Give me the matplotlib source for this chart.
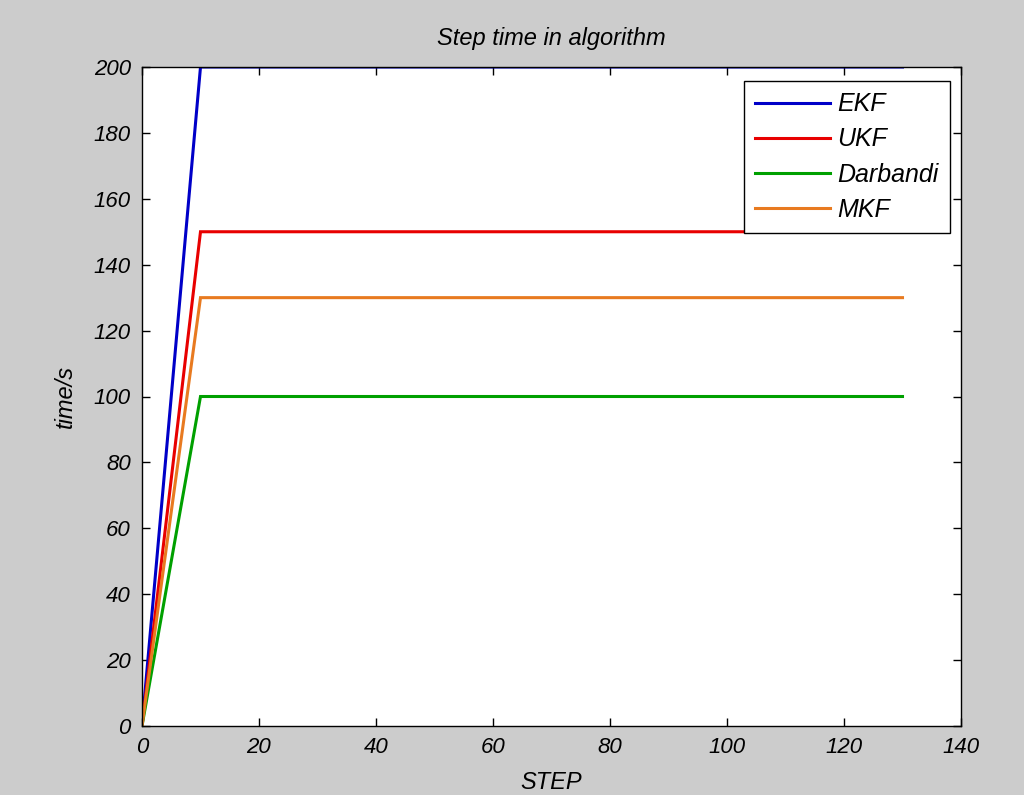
import matplotlib
matplotlib.use("Agg")
import matplotlib.pyplot as plt

plt.rcParams['font.family'] = ['Liberation Sans', 'DejaVu Sans']

steps = [0, 10, 130]
ekf = [0, 200, 200]
ukf = [0, 150, 150]
darbandi = [0, 100, 100]
mkf = [0, 130, 130]
labels = ["EKF", "UKF", "Darbandi", "MKF"]
colors = ["#0000c8", "#e80000", "#00a000", "#e87a20"]

fig = plt.figure(figsize=(10.24, 7.95), dpi=100, facecolor="#cccccc")
ax = fig.add_axes([142/1024, 1-726/795, (961-142)/1024, (726-67)/795])
ax.set_facecolor("white")

for y, lab, c in zip([ekf, ukf, darbandi, mkf], labels, colors):
    ax.plot(steps, y, color=c, lw=2.2, label=lab, solid_joinstyle='miter')

ax.set_xlim(0, 140)
ax.set_ylim(0, 200)
ax.set_xticks(range(0, 141, 20))
ax.set_yticks(range(0, 201, 20))
ax.tick_params(direction='in', top=True, right=True, length=6, width=1,
               labelsize=16)
ax.tick_params(axis='x', pad=8)
ax.tick_params(axis='y', pad=8)
for lbl in ax.get_xticklabels() + ax.get_yticklabels():
    lbl.set_fontstyle('italic')
for s in ax.spines.values():
    s.set_linewidth(1)
    s.set_color('black')

ax.set_title("Step time in algorithm", fontsize=17, fontstyle='italic', pad=16)
ax.set_xlabel("STEP", fontsize=17, fontstyle='italic', labelpad=9)
ax.set_ylabel("time/s", fontsize=17, fontstyle='italic', labelpad=12)

leg = ax.legend(loc='upper right', bbox_to_anchor=(950/1024, 1-81/795),
                bbox_transform=fig.transFigure, fancybox=False, framealpha=1,
                edgecolor='black', prop={'size': 18, 'style': 'italic'},
                handlelength=3.0, borderpad=0.45, labelspacing=0.45, handletextpad=0.3,
                borderaxespad=0)
leg.get_frame().set_linewidth(1)

fig.savefig("out.png", dpi=100, facecolor=fig.get_facecolor())
